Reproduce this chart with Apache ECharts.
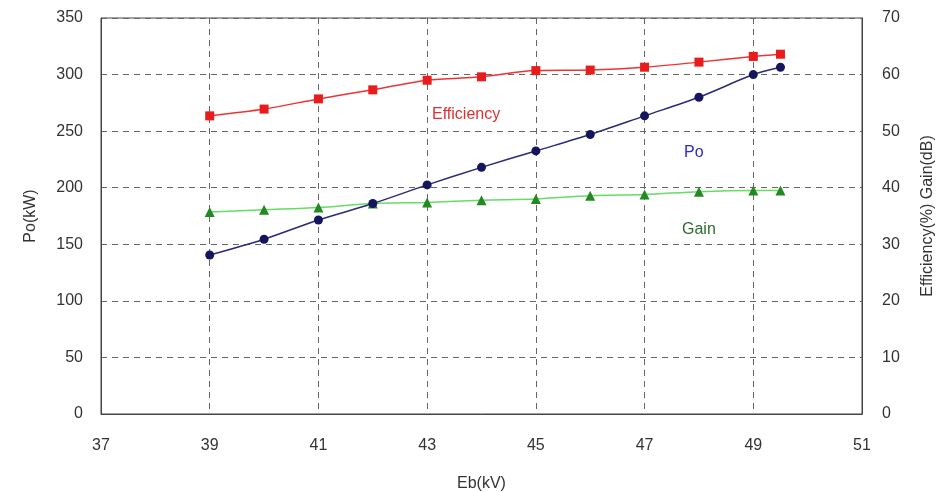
<!DOCTYPE html>
<html><head><meta charset="utf-8">
<script src="https://cdn.jsdelivr.net/npm/echarts@6/dist/echarts.min.js"></script>
<style>html,body{margin:0;padding:0;background:#fff}#c{width:948px;height:492px}</style>
</head><body><div id="c"></div>
<script>
const ebKV = [39, 40, 41, 42, 43, 44, 45, 46, 47, 48, 49, 49.5];
const poKW = [140.5, 154.5, 171.5, 186, 202.5, 218, 232.5, 247, 263.5, 280, 300, 306.5];
const efficiencyPct = [52.7, 53.9, 55.7, 57.3, 59.0, 59.6, 60.7, 60.8, 61.3, 62.2, 63.2, 63.6];
const gainDB = [35.7, 36.1, 36.5, 37.2, 37.4, 37.8, 38.0, 38.6, 38.8, 39.3, 39.5, 39.5];

const pair = (xs, ys) => xs.map((x, i) => [x, ys[i]]);
const font = '"Liberation Sans", Arial, sans-serif';
const chart = echarts.init(document.getElementById('c'));
const gridLine = { show: true, lineStyle: { color: '#666', type: [6, 5], width: 1 } };
chart.setOption({
  animation: false,
  textStyle: { fontFamily: font },
  grid: { left: 101, right: 86, top: 18, bottom: 78, show: true, borderColor: '#444', borderWidth: 1, outerBoundsMode: 'none', containLabel: false },
  xAxis: {
    type: 'value', min: 37, max: 51, interval: 2,
    name: 'Eb(kV)', nameLocation: 'middle', nameGap: 62,
    nameTextStyle: { fontSize: 16, color: '#333', fontFamily: font },
    axisLine: { lineStyle: { color: '#444' } },
    axisTick: { show: false },
    axisLabel: { fontSize: 16, color: '#333', margin: 24, fontFamily: font },
    splitLine: gridLine
  },
  yAxis: [{
    type: 'value', min: 0, max: 350, interval: 50,
    name: 'Po(kW)', nameLocation: 'middle', nameGap: 62, nameRotate: 90,
    nameTextStyle: { fontSize: 16, color: '#333', fontFamily: font },
    axisLine: { show: true, lineStyle: { color: '#444' } },
    axisTick: { show: false },
    axisLabel: { fontSize: 16, color: '#333', margin: 18, fontFamily: font },
    splitLine: gridLine
  }, {
    type: 'value', min: 0, max: 70, interval: 10, position: 'right',
    name: 'Efficiency(%) Gain(dB)', nameLocation: 'middle', nameGap: 58, nameRotate: 90,
    nameTextStyle: { fontSize: 16, color: '#333', fontFamily: font },
    axisLine: { show: true, lineStyle: { color: '#444' } },
    axisTick: { show: false },
    axisLabel: { fontSize: 16, color: '#333', margin: 20, fontFamily: font },
    splitLine: { show: false }
  }],
  series: [{
    name: 'Efficiency', type: 'line', yAxisIndex: 1, data: pair(ebKV, efficiencyPct),
    smooth: 0.3, symbol: 'rect', symbolSize: 9,
    lineStyle: { color: '#ee3333', width: 1.5 }, itemStyle: { color: '#e81c1c' }
  }, {
    name: 'Gain', type: 'line', yAxisIndex: 1, data: pair(ebKV, gainDB),
    smooth: 0.3, symbol: 'triangle', symbolSize: 10,
    lineStyle: { color: '#66dd66', width: 1.5 }, itemStyle: { color: '#238a23' }
  }, {
    name: 'Po', type: 'line', yAxisIndex: 0, data: pair(ebKV, poKW),
    smooth: 0.3, symbol: 'circle', symbolSize: 9,
    lineStyle: { color: '#2a2a78', width: 1.5 }, itemStyle: { color: '#15155e' }
  }],
  graphic: [
    { type: 'text', left: 432, top: 107, style: { text: 'Efficiency', fill: '#e03030', font: '16px ' + font } },
    { type: 'text', left: 684, top: 145, style: { text: 'Po', fill: '#2a2ad0', font: '16px ' + font } },
    { type: 'text', left: 682, top: 222, style: { text: 'Gain', fill: '#2f6a2f', font: '16px ' + font } }
  ]
});
</script></body></html>
